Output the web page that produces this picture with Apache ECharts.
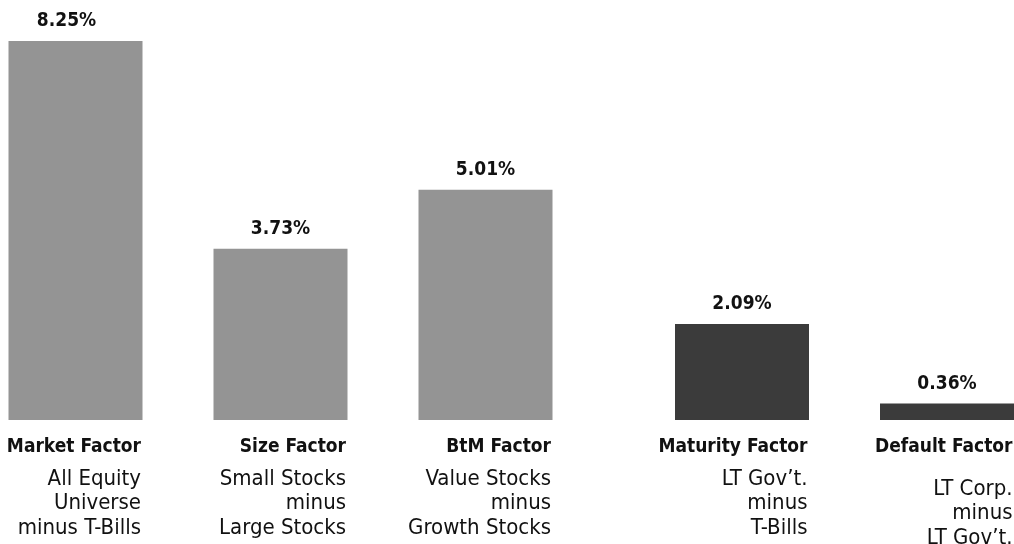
<!DOCTYPE html>
<html>
<head>
<meta charset="utf-8">
<script src="https://cdn.jsdelivr.net/npm/echarts@6/dist/echarts.min.js"></script>
<style>
	html, body { margin: 0; padding: 0; background: #fff; }
	#chart { width: 1014px; height: 544px; }
</style>
</head>
<body>
<div id="chart"></div>
<script>
'use strict';

// equity premia (left group)
var equityFactors = ['Market Factor', 'Size Factor', 'BtM Factor'];
var equitySubs = [
	['All Equity', 'Universe', 'minus T-Bills'],
	['Small Stocks', 'minus', 'Large Stocks'],
	['Value Stocks', 'minus', 'Growth Stocks']
];
var equityValues = [8.25, 3.73, 5.01];

// bond premia (right group)
var bondFactors = ['Maturity Factor', 'Default Factor'];
var bondSubs = [
	['LT Gov\u2019t.', 'minus', 'T-Bills'],
	['LT Corp.', 'minus', 'LT Gov\u2019t.']
];
var bondValues = [2.09, 0.36];

var FONT = '"DejaVu Sans Condensed", "Liberation Sans Narrow", sans-serif',
		lightGrey = '#949494',
		darkGrey = '#3b3b3b',
		yMax = 8.25;

// spacer style per column: default factor sits a bit lower
function makeFormatter(names, subs, gaps) {
	return function (value, idx) {
		var s = subs[idx],
				gap = gaps[idx] || 'g';
		return '{t|' + names[idx] + '}\n{' + gap + '| }\n{s|' + s[0] + '}\n{s|' + s[1] + '}\n{s|' + s[2] + '}';
	};
}

var rich = {
	t: { fontFamily: FONT, fontWeight: 'bold', fontSize: 19, lineHeight: 24, color: '#111', width: 131, align: 'right' },
	g: { fontSize: 1, lineHeight: 7.75, width: 131 },
	gd: { fontSize: 1, lineHeight: 17.75, width: 131 },
	s: { fontFamily: FONT, fontSize: 22, lineHeight: 24.5, color: '#111', width: 131, align: 'right' }
};

function xAxisFor(gridIndex, names, subs, gaps) {
	return {
		type: 'category',
		gridIndex: gridIndex,
		data: names,
		axisLine: { show: false },
		axisTick: { show: false },
		axisLabel: {
			interval: 0,
			margin: 15,
			width: 131,
			align: 'center',
			formatter: makeFormatter(names, subs, gaps),
			rich: rich
		}
	};
}

function yAxisFor(gridIndex) {
	return {
		type: 'value',
		gridIndex: gridIndex,
		min: 0,
		max: yMax,
		show: false,
		splitLine: { show: false }
	};
}

function valueLabel() {
	return {
		show: true,
		position: 'top',
		distance: 10,
		fontFamily: FONT,
		fontWeight: 'bold',
		fontSize: 19,
		color: '#111',
		formatter: function (p) {
			return p.value.toFixed(2) + '%';
		}
	};
}

// first label in the original sits a little left of its bar
var equityData = equityValues.map(function (v, i) {
	return i === 0 ? { value: v, label: { offset: [-9, 0] } } : v;
});

var chart = echarts.init(document.getElementById('chart'));

chart.setOption({
	animation: false,
	grid: [
		{ left: -27, width: 615, top: 41, bottom: 124, outerBoundsMode: 'none', containLabel: false },
		{ left: 639.5, width: 410, top: 41, bottom: 124, outerBoundsMode: 'none', containLabel: false }
	],
	xAxis: [
		xAxisFor(0, equityFactors, equitySubs, []),
		xAxisFor(1, bondFactors, bondSubs, ['g', 'gd'])
	],
	yAxis: [yAxisFor(0), yAxisFor(1)],
	series: [
		{
			type: 'bar',
			xAxisIndex: 0,
			yAxisIndex: 0,
			barWidth: 134,
			itemStyle: { color: lightGrey },
			label: valueLabel(),
			data: equityData
		},
		{
			type: 'bar',
			xAxisIndex: 1,
			yAxisIndex: 1,
			barWidth: 134,
			itemStyle: { color: darkGrey },
			label: valueLabel(),
			data: bondValues
		}
	]
});
</script>
</body>
</html>
